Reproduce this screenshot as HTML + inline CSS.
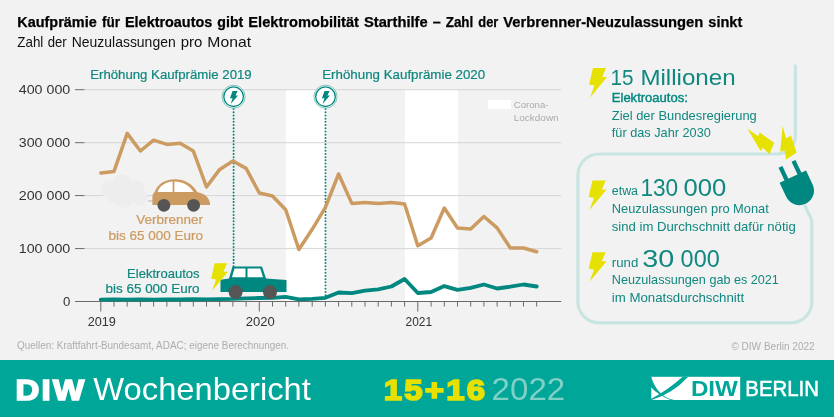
<!DOCTYPE html>
<html lang="de"><head><meta charset="utf-8"><title>DIW Wochenbericht 15+16 2022</title>
<style>html,body{margin:0;padding:0;background:#f2f2f2}svg{display:block}</style></head>
<body>
<svg width="834" height="417" viewBox="0 0 834 417" font-family='"Liberation Sans", sans-serif'>
<rect width="834" height="417" fill="#f2f2f2"/>
<rect x="285.8" y="89.6" width="40.8" height="212" fill="#ffffff"/>
<rect x="405" y="89.6" width="53" height="212" fill="#ffffff"/>
<line x1="85" x2="561.3" y1="89.7" y2="89.7" stroke="#d6d6d6" stroke-width="1"/>
<line x1="75" x2="84.6" y1="89.7" y2="89.7" stroke="#6a6a6a" stroke-width="1"/>
<text x="70.3" y="94.3" font-size="13.2" fill="#333333" text-anchor="end" font-weight="normal" textLength="51.6" lengthAdjust="spacingAndGlyphs" >400 000</text>
<line x1="85" x2="561.3" y1="142.7" y2="142.7" stroke="#d6d6d6" stroke-width="1"/>
<line x1="75" x2="84.6" y1="142.7" y2="142.7" stroke="#6a6a6a" stroke-width="1"/>
<text x="70.3" y="147.2" font-size="13.2" fill="#333333" text-anchor="end" font-weight="normal" textLength="51.6" lengthAdjust="spacingAndGlyphs" >300 000</text>
<line x1="85" x2="561.3" y1="195.6" y2="195.6" stroke="#d6d6d6" stroke-width="1"/>
<line x1="75" x2="84.6" y1="195.6" y2="195.6" stroke="#6a6a6a" stroke-width="1"/>
<text x="70.3" y="200.2" font-size="13.2" fill="#333333" text-anchor="end" font-weight="normal" textLength="51.6" lengthAdjust="spacingAndGlyphs" >200 000</text>
<line x1="85" x2="561.3" y1="248.6" y2="248.6" stroke="#d6d6d6" stroke-width="1"/>
<line x1="75" x2="84.6" y1="248.6" y2="248.6" stroke="#6a6a6a" stroke-width="1"/>
<text x="70.3" y="253.2" font-size="13.2" fill="#333333" text-anchor="end" font-weight="normal" textLength="51.6" lengthAdjust="spacingAndGlyphs" >100 000</text>
<line x1="75" x2="84.6" y1="301.5" y2="301.5" stroke="#6a6a6a" stroke-width="1"/>
<text x="70.3" y="306.1" font-size="13.2" fill="#333333" text-anchor="end" font-weight="normal" >0</text>
<line x1="75.5" x2="561.3" y1="301.5" y2="301.5" stroke="#6a6a6a" stroke-width="1"/>
<line x1="100.8" x2="100.8" y1="301.5" y2="311.5" stroke="#6a6a6a" stroke-width="1"/>
<line x1="114.0" x2="114.0" y1="301.5" y2="306.5" stroke="#6a6a6a" stroke-width="1"/>
<line x1="127.2" x2="127.2" y1="301.5" y2="306.5" stroke="#6a6a6a" stroke-width="1"/>
<line x1="140.4" x2="140.4" y1="301.5" y2="306.5" stroke="#6a6a6a" stroke-width="1"/>
<line x1="153.6" x2="153.6" y1="301.5" y2="306.5" stroke="#6a6a6a" stroke-width="1"/>
<line x1="166.9" x2="166.9" y1="301.5" y2="306.5" stroke="#6a6a6a" stroke-width="1"/>
<line x1="180.1" x2="180.1" y1="301.5" y2="306.5" stroke="#6a6a6a" stroke-width="1"/>
<line x1="193.3" x2="193.3" y1="301.5" y2="306.5" stroke="#6a6a6a" stroke-width="1"/>
<line x1="206.5" x2="206.5" y1="301.5" y2="306.5" stroke="#6a6a6a" stroke-width="1"/>
<line x1="219.7" x2="219.7" y1="301.5" y2="306.5" stroke="#6a6a6a" stroke-width="1"/>
<line x1="232.9" x2="232.9" y1="301.5" y2="306.5" stroke="#6a6a6a" stroke-width="1"/>
<line x1="246.1" x2="246.1" y1="301.5" y2="306.5" stroke="#6a6a6a" stroke-width="1"/>
<line x1="259.3" x2="259.3" y1="301.5" y2="311.5" stroke="#6a6a6a" stroke-width="1"/>
<line x1="272.5" x2="272.5" y1="301.5" y2="306.5" stroke="#6a6a6a" stroke-width="1"/>
<line x1="285.7" x2="285.7" y1="301.5" y2="306.5" stroke="#6a6a6a" stroke-width="1"/>
<line x1="298.9" x2="298.9" y1="301.5" y2="306.5" stroke="#6a6a6a" stroke-width="1"/>
<line x1="312.2" x2="312.2" y1="301.5" y2="306.5" stroke="#6a6a6a" stroke-width="1"/>
<line x1="325.4" x2="325.4" y1="301.5" y2="306.5" stroke="#6a6a6a" stroke-width="1"/>
<line x1="338.6" x2="338.6" y1="301.5" y2="306.5" stroke="#6a6a6a" stroke-width="1"/>
<line x1="351.8" x2="351.8" y1="301.5" y2="306.5" stroke="#6a6a6a" stroke-width="1"/>
<line x1="365.0" x2="365.0" y1="301.5" y2="306.5" stroke="#6a6a6a" stroke-width="1"/>
<line x1="378.2" x2="378.2" y1="301.5" y2="306.5" stroke="#6a6a6a" stroke-width="1"/>
<line x1="391.4" x2="391.4" y1="301.5" y2="306.5" stroke="#6a6a6a" stroke-width="1"/>
<line x1="404.6" x2="404.6" y1="301.5" y2="306.5" stroke="#6a6a6a" stroke-width="1"/>
<line x1="417.8" x2="417.8" y1="301.5" y2="311.5" stroke="#6a6a6a" stroke-width="1"/>
<line x1="431.1" x2="431.1" y1="301.5" y2="306.5" stroke="#6a6a6a" stroke-width="1"/>
<line x1="444.3" x2="444.3" y1="301.5" y2="306.5" stroke="#6a6a6a" stroke-width="1"/>
<line x1="457.5" x2="457.5" y1="301.5" y2="306.5" stroke="#6a6a6a" stroke-width="1"/>
<line x1="470.7" x2="470.7" y1="301.5" y2="306.5" stroke="#6a6a6a" stroke-width="1"/>
<line x1="483.9" x2="483.9" y1="301.5" y2="306.5" stroke="#6a6a6a" stroke-width="1"/>
<line x1="497.1" x2="497.1" y1="301.5" y2="306.5" stroke="#6a6a6a" stroke-width="1"/>
<line x1="510.3" x2="510.3" y1="301.5" y2="306.5" stroke="#6a6a6a" stroke-width="1"/>
<line x1="523.5" x2="523.5" y1="301.5" y2="306.5" stroke="#6a6a6a" stroke-width="1"/>
<line x1="536.7" x2="536.7" y1="301.5" y2="306.5" stroke="#6a6a6a" stroke-width="1"/>
<text x="101.8" y="325.7" font-size="13.2" fill="#333333" text-anchor="middle" font-weight="normal" textLength="28.2" lengthAdjust="spacingAndGlyphs" >2019</text>
<text x="260.3" y="325.7" font-size="13.2" fill="#333333" text-anchor="middle" font-weight="normal" textLength="29.0" lengthAdjust="spacingAndGlyphs" >2020</text>
<text x="418.8" y="325.7" font-size="13.2" fill="#333333" text-anchor="middle" font-weight="normal" textLength="26.6" lengthAdjust="spacingAndGlyphs" >2021</text>
<rect x="487.8" y="99.8" width="23.1" height="9.2" fill="#fff"/>
<text x="513.8" y="107.8" font-size="9.4" fill="#ababab" text-anchor="start" font-weight="normal" textLength="34.7" lengthAdjust="spacingAndGlyphs" >Corona-</text>
<text x="513.8" y="121.0" font-size="9.4" fill="#ababab" text-anchor="start" font-weight="normal" textLength="44.8" lengthAdjust="spacingAndGlyphs" >Lockdown</text>
<g fill="#ededed" transform="translate(1.5,0)"><circle cx="108" cy="189" r="9"/><circle cx="120" cy="184" r="10"/><circle cx="133" cy="190" r="10"/><circle cx="122" cy="198" r="10"/><circle cx="138" cy="197" r="8"/><circle cx="112" cy="196" r="7"/></g>
<line x1="233.6" x2="233.6" y1="109" y2="298" stroke="#00877f" stroke-width="2" stroke-linecap="round" stroke-dasharray="0.01 3.2"/>
<line x1="325.5" x2="325.5" y1="109" y2="298" stroke="#00877f" stroke-width="2" stroke-linecap="round" stroke-dasharray="0.01 3.2"/>
<polyline fill="none" stroke="#cc9b61" stroke-width="3.5" stroke-linejoin="round" stroke-linecap="round" points="100.8,172.9 114.0,171.4 127.2,133.4 140.4,151.0 153.6,140.2 166.9,144.4 180.1,143.2 193.3,151.0 206.5,187.0 219.7,169.4 232.9,161.0 246.1,168.4 259.3,193.0 272.5,196.0 285.7,209.8 298.9,249.5 312.2,229.3 325.4,207.4 338.6,174.0 351.8,203.4 365.0,202.4 378.2,203.4 391.4,202.4 404.6,204.0 417.8,245.8 431.1,238.0 444.3,208.0 457.5,228.0 470.7,229.1 483.9,216.5 497.1,227.9 510.3,248.0 523.5,248.0 536.7,251.8"/>
<polyline fill="none" stroke="#00877f" stroke-width="3.8" stroke-linejoin="round" stroke-linecap="round" points="100.8,299.6 114.0,299.4 127.2,299.6 140.4,299.3 153.6,299.6 166.9,299.4 180.1,299.5 193.3,299.2 206.5,299.4 219.7,299.1 232.9,298.9 246.1,298.4 259.3,298.0 272.5,297.8 285.7,296.9 298.9,299.4 312.2,298.9 325.4,297.8 338.6,292.5 351.8,293.2 365.0,290.6 378.2,289.4 391.4,286.5 404.6,279.0 417.8,293.0 431.1,292.0 444.3,286.1 457.5,289.8 470.7,287.9 483.9,284.5 497.1,288.5 510.3,286.7 523.5,284.5 536.7,286.5"/>
<line x1="148" x2="153" y1="201" y2="201" stroke="#bdbdbd" stroke-width="1.2"/>
<path fill="#cc9b61" d="M152.4,205 L152.4,197 Q152.4,193.5 154.5,192.2 C158,183 166,179.3 175,179.3 C185,179.3 192.5,184 197.4,192.2 C204,193 209,197 210,203 L210,205 Z"/>
<path fill="#fff" d="M157.6,192 C160,185.5 166,182 172.6,181.6 L172.6,192 Z"/>
<path fill="#fff" d="M174.4,181.6 C182,181.6 189,185 193.5,192 L174.4,192 Z"/>
<circle cx="163.9" cy="205.3" r="6.4" fill="#555"/><circle cx="193.6" cy="205.3" r="6.4" fill="#555"/>
<text x="203.0" y="223.8" font-size="13.5" fill="#cc9b61" text-anchor="end" font-weight="normal" textLength="66.8" lengthAdjust="spacingAndGlyphs" stroke="#cc9b61" stroke-width="0.22" >Verbrenner</text>
<text x="203.0" y="239.6" font-size="13.5" fill="#cc9b61" text-anchor="end" font-weight="normal" textLength="94.5" lengthAdjust="spacingAndGlyphs" stroke="#cc9b61" stroke-width="0.22" >bis 65 000 Euro</text>
<path fill="#00877f" d="M220.5,292 L220.5,279.8 L229,278.5 L232.5,266.6 L262,266.6 L266,278.5 L286.5,280 L286.5,292 Z"/>
<path fill="#fff" d="M234.5,268.6 L245.5,268.6 L245.5,277.2 L232,277.2 Z"/><path fill="#fff" d="M247.5,268.6 L260.3,268.6 L263,277.2 L247.5,277.2 Z"/>
<circle cx="235.6" cy="292.1" r="7" fill="#555"/><circle cx="270.0" cy="292.1" r="7" fill="#555"/>
<text x="199.6" y="277.7" font-size="13.5" fill="#10877f" text-anchor="end" font-weight="normal" textLength="72.5" lengthAdjust="spacingAndGlyphs" stroke="#10877f" stroke-width="0.22" >Elektroautos</text>
<text x="199.6" y="293.3" font-size="13.5" fill="#10877f" text-anchor="end" font-weight="normal" textLength="94.0" lengthAdjust="spacingAndGlyphs" stroke="#10877f" stroke-width="0.22" >bis 65 000 Euro</text>
<polygon fill="#e6e100" points="214.7,263.2 227.1,263.2 223.4,271.7 228.0,271.7 212.1,290.7 216.1,279.5 211.1,278.7"/>
<circle cx="233.6" cy="96.7" r="11.5" fill="#fff" stroke="#5fb3ab" stroke-width="0.8"/>
<circle cx="233.6" cy="96.7" r="9.8" fill="#fff" stroke="#00877f" stroke-width="1.3"/>
<polygon fill="#00877f" points="232.6,91.0 237.6,91.0 235.5,95.4 238.0,95.4 230.7,104.0 232.6,98.2 230.0,98.2"/>
<circle cx="325.5" cy="96.7" r="11.5" fill="#fff" stroke="#5fb3ab" stroke-width="0.8"/>
<circle cx="325.5" cy="96.7" r="9.8" fill="#fff" stroke="#00877f" stroke-width="1.3"/>
<polygon fill="#00877f" points="324.5,91.0 329.5,91.0 327.4,95.4 329.9,95.4 322.6,104.0 324.5,98.2 321.9,98.2"/>
<text x="90.2" y="78.6" font-size="13.5" fill="#10877f" text-anchor="start" font-weight="normal" textLength="161.5" lengthAdjust="spacingAndGlyphs" stroke="#10877f" stroke-width="0.22" >Erhöhung Kaufprämie 2019</text>
<text x="322.2" y="78.6" font-size="13.5" fill="#10877f" text-anchor="start" font-weight="normal" textLength="163.0" lengthAdjust="spacingAndGlyphs" stroke="#10877f" stroke-width="0.22" >Erhöhung Kaufprämie 2020</text>
<text y="27.2" font-size="14" fill="#000" font-weight="bold" stroke="#000" stroke-width="0.25"><tspan x="17.3" textLength="79.4" lengthAdjust="spacingAndGlyphs">Kaufprämie</tspan> <tspan x="102.0" textLength="18.0" lengthAdjust="spacingAndGlyphs">für</tspan> <tspan x="125.0" textLength="87.3" lengthAdjust="spacingAndGlyphs">Elektroautos</tspan> <tspan x="217.3" textLength="26.0" lengthAdjust="spacingAndGlyphs">gibt</tspan> <tspan x="248.3" textLength="110.7" lengthAdjust="spacingAndGlyphs">Elektromobilität</tspan> <tspan x="364.0" textLength="63.7" lengthAdjust="spacingAndGlyphs">Starthilfe</tspan> <tspan x="432.7" textLength="8.0" lengthAdjust="spacingAndGlyphs">–</tspan> <tspan x="445.7" textLength="27.6" lengthAdjust="spacingAndGlyphs">Zahl</tspan> <tspan x="478.3" textLength="20.0" lengthAdjust="spacingAndGlyphs">der</tspan> <tspan x="503.3" textLength="200.0" lengthAdjust="spacingAndGlyphs">Verbrenner-Neuzulassungen</tspan> <tspan x="708.3" textLength="34.0" lengthAdjust="spacingAndGlyphs">sinkt</tspan></text>
<text y="47.4" font-size="14.6" fill="#111" font-weight="normal" ><tspan x="17.3" textLength="26.0" lengthAdjust="spacingAndGlyphs">Zahl</tspan> <tspan x="47.7" textLength="19.0" lengthAdjust="spacingAndGlyphs">der</tspan> <tspan x="71.7" textLength="104.0" lengthAdjust="spacingAndGlyphs">Neuzulassungen</tspan> <tspan x="180.7" textLength="21.6" lengthAdjust="spacingAndGlyphs">pro</tspan> <tspan x="207.3" textLength="43.7" lengthAdjust="spacingAndGlyphs">Monat</tspan></text>
<text x="17.1" y="349.4" font-size="10.2" fill="#adadad" text-anchor="start" font-weight="normal" textLength="272.0" lengthAdjust="spacingAndGlyphs" >Quellen: Kraftfahrt-Bundesamt, ADAC; eigene Berechnungen.</text>
<text x="814.7" y="349.9" font-size="10.2" fill="#adadad" text-anchor="end" font-weight="normal" textLength="83.3" lengthAdjust="spacingAndGlyphs" >© DIW Berlin 2022</text>
<path fill="none" stroke="#c9e5e2" stroke-width="3.2" d="M795.3,64.4 L795.3,136 A18,18 0 0 1 777.3,154 L598.9,154 A21,21 0 0 0 577.9,175 L577.9,301.8 A21,21 0 0 0 598.9,322.8 L790.9,322.8 A21,21 0 0 0 811.9,301.8 L811.9,224 Q811.9,220 810.3,216.8 L804.5,205"/>
<g transform="translate(792.8,176.6) rotate(-25.2)" fill="#00877f"><rect x="-9.2" y="-14" width="4.3" height="16"/><rect x="5.2" y="-14" width="4.3" height="16"/><path d="M-14.6,0 L14.6,0 L14.6,15.5 A14.6,14.6 0 0 1 -14.6,15.5 Z"/></g>
<polygon fill="#e6e100" points="747.4,128.4 758,136.2 759.8,132.6 774.2,142.8 769.4,154.2 762.8,147.8 760.6,150.9"/>
<polygon fill="#e6e100" points="782.6,126 786.1,138.6 790.9,135.6 796.6,152.4 786.1,159.6 784.6,150.6 780.2,151.8"/>
<polygon fill="#e6e100" points="592.9,68.1 606.1,68.1 602.2,77.1 607.0,77.1 590.1,97.4 594.4,85.4 589.1,84.6"/>
<text y="84.9" font-size="22.7" fill="#10877F" font-weight="normal" ><tspan x="610.6" textLength="23.0" lengthAdjust="spacingAndGlyphs">15</tspan> <tspan x="640.4" textLength="95.2" lengthAdjust="spacingAndGlyphs">Millionen</tspan></text>
<text x="611.8" y="101.9" font-size="13" fill="#00877f" text-anchor="start" font-weight="normal" textLength="76.0" lengthAdjust="spacingAndGlyphs" stroke="#00877f" stroke-width="0.4">Elektroautos:</text>
<text x="611.8" y="119.9" font-size="13" fill="#10877F" text-anchor="start" font-weight="normal" textLength="145.0" lengthAdjust="spacingAndGlyphs" >Ziel der Bundesregierung</text>
<text x="611.8" y="137.3" font-size="13" fill="#10877F" text-anchor="start" font-weight="normal" textLength="99.0" lengthAdjust="spacingAndGlyphs" >für das Jahr 2030</text>
<polygon fill="#e6e100" points="592.5,180.5 605.7,180.5 601.8,189.5 606.6,189.5 589.7,209.8 594.0,197.8 588.7,197.0"/>
<text x="611.8" y="195.4" font-size="12.5" fill="#10877F" text-anchor="start" font-weight="normal" textLength="26.2" lengthAdjust="spacingAndGlyphs" >etwa</text>
<text y="195.8" font-size="23.2" fill="#10877F" font-weight="normal" ><tspan x="640.4" textLength="37.8" lengthAdjust="spacingAndGlyphs">130</tspan> <tspan x="683.4" textLength="42.8" lengthAdjust="spacingAndGlyphs">000</tspan></text>
<text x="611.8" y="213.2" font-size="13" fill="#10877F" text-anchor="start" font-weight="normal" textLength="157.0" lengthAdjust="spacingAndGlyphs" >Neuzulassungen pro Monat</text>
<text x="611.8" y="230.8" font-size="13" fill="#10877F" text-anchor="start" font-weight="normal" textLength="184.0" lengthAdjust="spacingAndGlyphs" >sind im Durchschnitt dafür nötig</text>
<polygon fill="#e6e100" points="592.5,252.2 605.7,252.2 601.8,261.2 606.6,261.2 589.7,281.5 594.0,269.5 588.7,268.7"/>
<text x="611.8" y="266.8" font-size="12.5" fill="#10877F" text-anchor="start" font-weight="normal" textLength="26.5" lengthAdjust="spacingAndGlyphs" >rund</text>
<text y="267.2" font-size="23.2" fill="#10877F" font-weight="normal" ><tspan x="642.2" textLength="32.0" lengthAdjust="spacingAndGlyphs">30</tspan> <tspan x="680.6" textLength="39.1" lengthAdjust="spacingAndGlyphs">000</tspan></text>
<text x="611.8" y="284.4" font-size="13" fill="#10877F" text-anchor="start" font-weight="normal" textLength="167.1" lengthAdjust="spacingAndGlyphs" >Neuzulassungen gab es 2021</text>
<text x="611.8" y="302.1" font-size="13" fill="#10877F" text-anchor="start" font-weight="normal" textLength="132.3" lengthAdjust="spacingAndGlyphs" >im Monatsdurchschnitt</text>
<rect x="0" y="360" width="834" height="57" fill="#00a698"/>
<text transform="translate(15.6,399.5) scale(1.100,1)" x="0" y="0" font-size="30.0" fill="#fff" font-weight="bold" textLength="62.2" lengthAdjust="spacing" stroke="#fff" stroke-width="1.7" stroke-linejoin="miter">DIW</text>
<text x="93.3" y="399.6" font-size="31.5" fill="#fff" text-anchor="start" font-weight="normal" textLength="217.6" lengthAdjust="spacingAndGlyphs" >Wochenbericht</text>
<text transform="translate(383.8,399.5) scale(1.100,1)" x="0" y="0" font-size="30.0" fill="#e6e100" font-weight="bold" textLength="92.0" lengthAdjust="spacing" stroke="#e6e100" stroke-width="1.7" stroke-linejoin="miter">15+16</text>
<text x="491.6" y="399.6" font-size="31.5" fill="#7fd0c7" text-anchor="start" font-weight="normal" textLength="73.6" lengthAdjust="spacingAndGlyphs" >2022</text>
<rect x="651.3" y="376.8" width="88.9" height="23.2" fill="#fff"/>
<path fill="#00a698" d="M688.2,376.8 Q673,393.6 651,400.2 L651,399.0 Q668.5,389.6 682.6,376.8 Z"/>
<path fill="#00a698" d="M651,376.8 Q658,398 675.2,400.2 L671.3,400.2 Q659,396 651,387.3 Z"/>
<text x="690.9" y="395.8" font-size="21.3" fill="#00a698" text-anchor="start" font-weight="bold" textLength="47.0" lengthAdjust="spacingAndGlyphs" >DIW</text>
<text x="745.3" y="395.8" font-size="21.3" fill="#fff" text-anchor="start" font-weight="normal" textLength="73.6" lengthAdjust="spacingAndGlyphs" stroke="#fff" stroke-width="0.5">BERLIN</text>
</svg>
</body></html>
